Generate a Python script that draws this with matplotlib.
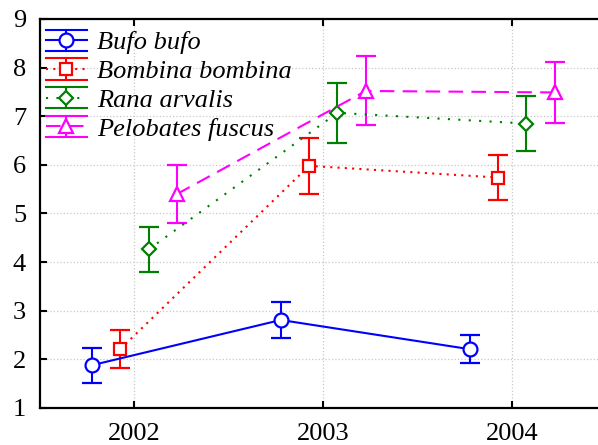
import matplotlib
matplotlib.use("Agg")
import numpy as np
import matplotlib.pyplot as plt
from matplotlib.legend_handler import HandlerBase
from matplotlib.lines import Line2D

# years on the x axis and per-species means with error half-widths
years = ["2002", "2003", "2004"]
species = ["Bufo bufo", "Bombina bombina", "Rana arvalis", "Pelobates fuscus"]
bufo = [1.88, 2.81, 2.21]
bufo_err = [0.36, 0.38, 0.29]
bombina = [2.21, 5.98, 5.74]
bombina_err = [0.39, 0.58, 0.47]
rana = [4.26, 7.07, 6.85]
rana_err = [0.46, 0.62, 0.56]
pelobates = [5.40, 7.52, 7.49]
pelobates_err = [0.59, 0.71, 0.63]
y_ticks = [1, 2, 3, 4, 5, 6, 7, 8, 9]

series = [bufo, bombina, rana, pelobates]
errors = [bufo_err, bombina_err, rana_err, pelobates_err]
offsets = [-0.225, -0.075, 0.075, 0.225]
colors = ["#0000ff", "#ff0000", "#008000", "#ff00ff"]
styles = ["-", (0, (1, 2.5)), (0, (1, 4)), (0, (7, 4))]
markers = ["o", "s", "D", "^"]
msizes = [10, 9, 7, 10]

plt.rcParams["font.family"] = ["Liberation Serif", "DejaVu Serif"]


class HandlerCaps(HandlerBase):
    """Legend key in the style of the reference: caps spanning the full key width."""

    def create_artists(self, legend, orig_handle, xdescent, ydescent,
                       width, height, fontsize, trans):
        x0, x1 = -xdescent, width - xdescent
        xm = (x0 + x1) / 2
        ym = height / 2 - ydescent
        h = 0.4 * fontsize
        c = orig_handle.get_color()
        lw = orig_handle.get_linewidth()
        main = Line2D([x0, x1], [ym, ym])
        main.update_from(orig_handle)
        main.set_marker("None")
        top = Line2D([x0, x1], [ym + h, ym + h], color=c, lw=lw)
        bot = Line2D([x0, x1], [ym - h, ym - h], color=c, lw=lw)
        vert = Line2D([xm, xm], [ym - h, ym + h], color=c, lw=lw)
        mk = Line2D([xm], [ym])
        mk.update_from(orig_handle)
        mk.set_linestyle("None")
        arts = [main, top, bot, vert, mk]
        for a in arts:
            a.set_transform(trans)
        return arts


fig = plt.figure(figsize=(5.98, 4.45), dpi=100)
ax = fig.add_axes([40 / 598, 37 / 445, 566.5 / 598, 389 / 445])

x = np.arange(len(years))
proxies = []
for vals, errs, off, c, ls, m, ms in zip(series, errors, offsets, colors, styles, markers, msizes):
    ax.errorbar(x + off, vals, yerr=errs, color=c, linestyle=ls, lw=1.5,
                marker=m, ms=ms, mfc="white", mec=c, mew=1.6,
                capsize=7, capthick=1.5, elinewidth=1.5)
    proxies.append(Line2D([], [], color=c, linestyle=ls, lw=1.5, marker=m, ms=ms,
                          mfc="white", mec=c, mew=1.6))

ax.set_xlim(-0.5, 2.5)
ax.set_ylim(1, 9)
ax.set_xticks(x)
ax.set_xticklabels(years)
ax.set_yticks(y_ticks)
ax.tick_params(axis="both", direction="in", length=5, width=1.5, labelsize=19)
ax.tick_params(axis="x", top=True, pad=10.5)
ax.tick_params(axis="y", pad=10)
ax.grid(True, linestyle=":", color="#c8c8c8", lw=0.9)
for sp in ax.spines.values():
    sp.set_linewidth(1.6)

ax.legend(proxies, species, handler_map={Line2D: HandlerCaps()},
          loc="upper left", bbox_to_anchor=(6 / 566.5, 1 - 12 / 389),
          frameon=False, borderpad=0, borderaxespad=0,
          handlelength=1.55, handletextpad=0.38, labelspacing=0.2,
          prop={"size": 19, "style": "italic"})

fig.savefig("out.png", dpi=100)
